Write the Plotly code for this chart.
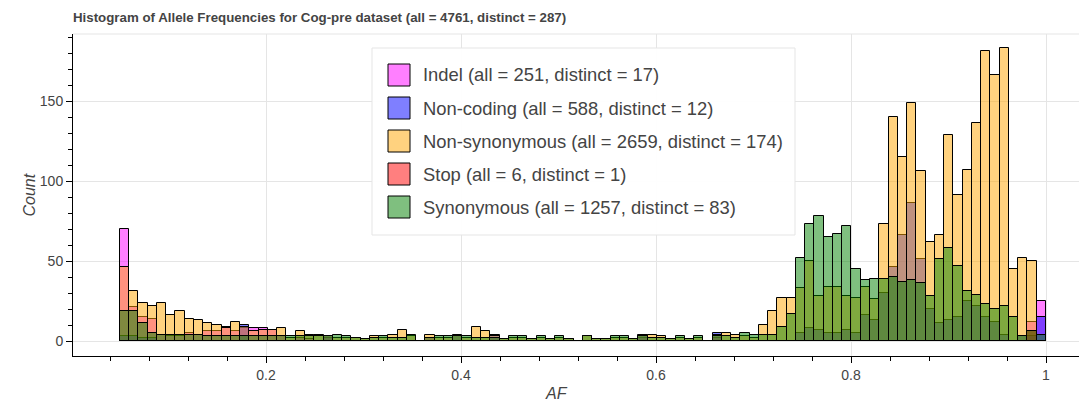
import numpy as np
import plotly.graph_objects as go

# histogram bins (AF from 0.05 to 1.0, 100 bins)
AF_MIN = 0.05
AF_MAX = 1.0
N_BINS = 100

labels = [
    "Indel (all = 251, distinct = 17)",
    "Non-coding (all = 588, distinct = 12)",
    "Non-synonymous (all = 2659, distinct = 174)",
    "Stop (all = 6, distinct = 1)",
    "Synonymous (all = 1257, distinct = 83)",
]
colors = [
    "rgba(255,0,255,0.5)",
    "rgba(0,0,255,0.5)",
    "rgba(255,165,0,0.5)",
    "rgba(255,0,0,0.5)",
    "rgba(0,128,0,0.5)",
]

indel = [
    70, 21, 15, 14, 4, 3, 3, 5, 4, 6,
    6, 9, 6, 8, 8, 8, 7, 3, 0, 2,
    1, 0, 2, 0, 0, 0, 0, 0, 0, 0,
    0, 0, 0, 2, 0, 0, 0, 0, 0, 0,
    2, 0, 0, 0, 0, 0, 0, 0, 0, 0,
    0, 0, 0, 0, 0, 0, 2, 0, 0, 0,
    0, 0, 0, 0, 2, 0, 0, 0, 0, 0,
    0, 0, 0, 0, 0, 0, 0, 0, 0, 0,
    0, 0, 0, 0, 0, 0, 0, 0, 0, 0,
    0, 0, 0, 0, 0, 0, 0, 0, 12, 25,
]
non_coding = [
    3, 3, 2, 2, 0, 0, 0, 0, 0, 0,
    0, 0, 0, 10, 0, 0, 0, 0, 0, 0,
    0, 0, 3, 0, 0, 0, 0, 0, 0, 0,
    0, 0, 0, 0, 0, 0, 4, 0, 0, 0,
    4, 0, 0, 0, 0, 0, 0, 0, 0, 0,
    0, 0, 0, 0, 0, 0, 4, 0, 0, 0,
    0, 0, 0, 0, 5, 0, 0, 0, 0, 0,
    0, 0, 0, 5, 8, 7, 5, 5, 7, 5,
    16, 13, 30, 46, 66, 86, 51, 20, 11, 13,
    15, 25, 22, 15, 12, 4, 0, 3, 3, 15,
]
non_synonymous = [
    46, 31, 24, 22, 24, 16, 19, 14, 13, 11,
    10, 8, 12, 9, 6, 7, 7, 8, 2, 6,
    4, 4, 3, 2, 2, 2, 1, 3, 2, 4,
    7, 3, 0, 4, 2, 2, 3, 2, 9, 6,
    3, 1, 2, 2, 1, 2, 1, 2, 1, 0,
    3, 1, 1, 2, 2, 1, 3, 4, 3, 1,
    2, 1, 2, 0, 4, 5, 4, 3, 2, 10,
    19, 27, 27, 33, 50, 28, 34, 34, 28, 27,
    34, 26, 73, 140, 115, 149, 106, 62, 66, 129,
    91, 107, 136, 181, 166, 183, 45, 52, 50, 0,
]
stop = [0] * 98 + [6, 0]
synonymous = [
    19, 19, 11, 5, 4, 4, 4, 4, 4, 3,
    3, 3, 3, 3, 3, 3, 3, 3, 3, 3,
    3, 3, 3, 4, 3, 2, 1, 2, 3, 2,
    2, 4, 0, 2, 3, 3, 3, 3, 2, 2,
    2, 1, 3, 3, 1, 3, 1, 3, 1, 0,
    3, 1, 1, 3, 3, 1, 3, 2, 2, 1,
    3, 1, 3, 0, 3, 3, 2, 5, 4, 4,
    4, 9, 17, 52, 73, 78, 65, 67, 72, 45,
    38, 39, 39, 40, 37, 38, 36, 28, 51, 58,
    47, 31, 29, 23, 20, 22, 15, 3, 6, 4,
]
series = [indel, non_coding, non_synonymous, stop, synonymous]

edges = np.linspace(AF_MIN, AF_MAX, N_BINS + 1)
centers = (edges[:-1] + edges[1:]) / 2
bin_width = edges[1] - edges[0]

FONT = "Liberation Sans, Arial, sans-serif"
TXT = "#444444"

fig = go.Figure()
for lab, col, vals in zip(labels, colors, series):
    fig.add_trace(go.Bar(
        x=centers, y=vals, width=bin_width, name=lab,
        marker=dict(color=col, line=dict(color="black", width=1)),
        showlegend=False,
    ))

# plot frame in pixels
L, R, T, B = 73, 1079, 34, 356


def px(x, y):
    return (x - L) / (R - L), (B - y) / (B - T)


# legend drawn by hand (bokeh style: big swatches)
bx0, by0 = px(372, 48)
bx1, by1 = px(795, 235)
fig.add_shape(type="rect", xref="paper", yref="paper", x0=bx0, x1=bx1, y0=by1, y1=by0,
              line=dict(color="#e5e5e5", width=1), fillcolor="rgba(255,255,255,0.95)", layer="above")
for i, (lab, col) in enumerate(zip(labels, colors)):
    cy = 75 + i * 33
    sx0, sy0 = px(388, cy - 11)
    sx1, sy1 = px(410, cy + 11)
    fig.add_shape(type="rect", xref="paper", yref="paper", x0=sx0, x1=sx1, y0=sy1, y1=sy0,
                  line=dict(color="black", width=1), fillcolor=col, layer="above")
    tx, ty = px(421, cy)
    fig.add_annotation(x=tx, y=ty, xref="paper", yref="paper", text=lab, showarrow=False,
                       xanchor="left", yanchor="middle", font=dict(family=FONT, size=18.4, color=TXT))

# top outline of frame
fig.add_shape(type="line", xref="paper", yref="paper", x0=0, x1=1, y0=1, y1=1,
              line=dict(color="#e5e5e5", width=1))

# axis titles
ax, ay = px(556, 404)
fig.add_annotation(x=ax, y=ay, xref="paper", yref="paper", text="<i>AF</i>", showarrow=False,
                   font=dict(family=FONT, size=16, color=TXT))
cx, cy = px(18, 195)
fig.add_annotation(x=cx, y=cy, xref="paper", yref="paper", text="<i>Count</i>", showarrow=False,
                   textangle=-90, font=dict(family=FONT, size=16, color=TXT))

fig.update_layout(
    width=1079, height=414,
    margin=dict(l=L, r=1079 - R, t=T, b=414 - B),
    barmode="overlay", bargap=0,
    plot_bgcolor="white", paper_bgcolor="white",
    font=dict(family=FONT, size=13, color=TXT),
    title=dict(
        text="<b>Histogram of Allele Frequencies for Cog-pre dataset (all = 4761, distinct = 287)</b>",
        x=L / 1079, xanchor="left", y=1 - 17 / 414, yanchor="middle",
        font=dict(family=FONT, size=13.3, color=TXT),
    ),
)
fig.update_xaxes(
    range=[(L - 71) / 975, (R - 71) / 975],
    tick0=0, dtick=0.2, ticks="outside", ticklen=6, tickcolor="black",
    showline=True, linecolor="black", linewidth=1,
    showgrid=True, gridcolor="#e5e5e5", zeroline=False,
    tickfont=dict(size=14, color=TXT),
    minor=dict(ticks="outside", ticklen=4, tickcolor="black", dtick=0.04, tick0=0, showgrid=False),
)
fig.update_yaxes(
    range=[(341 - B) / 1.6, (341 - T) / 1.6],
    tick0=0, dtick=50, ticks="outside", ticklen=6, tickcolor="black",
    showline=True, linecolor="black", linewidth=1,
    showgrid=True, gridcolor="#e5e5e5", zeroline=False,
    tickfont=dict(size=14, color=TXT),
    minor=dict(ticks="outside", ticklen=4, tickcolor="black", dtick=10, tick0=0, showgrid=False),
)

# the page's default body margin would shift the figure by 8px
fig.write_html("out.html", config={"displayModeBar": False},
               post_script="document.body.style.margin='0';")
